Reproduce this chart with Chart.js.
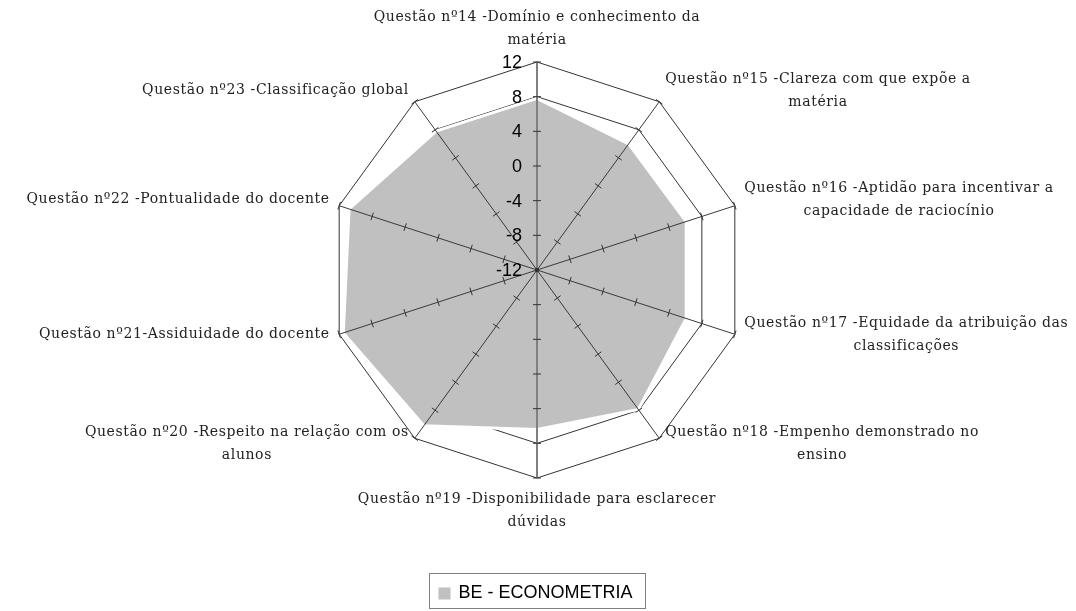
<!DOCTYPE html>
<html lang="pt">
<head>
<meta charset="UTF-8">
<title>BE - ECONOMETRIA</title>
<script src="https://cdn.jsdelivr.net/npm/chart.js"></script>
<style>
  html, body { margin: 0; padding: 0; background: #fff; }
  #wrap { width: 1076px; height: 611px; }
</style>
</head>
<body>
<div id="wrap"><canvas id="radar" width="1076" height="611"></canvas></div>
<script>
const categories = [
  ['Questão nº14 -Domínio e conhecimento da', 'matéria'],
  ['Questão nº15 -Clareza com que expõe a', 'matéria'],
  ['Questão nº16 -Aptidão para incentivar a', 'capacidade de raciocínio'],
  ['Questão nº17 -Equidade da atribuição das', 'classificações'],
  ['Questão nº18 -Empenho demonstrado no', 'ensino'],
  ['Questão nº19 -Disponibilidade para esclarecer', 'dúvidas'],
  ['Questão nº20 -Respeito na relação com os', 'alunos'],
  ['Questão nº21-Assiduidade do docente'],
  ['Questão nº22 -Pontualidade do docente'],
  ['Questão nº23 -Classificação global']
];
const seriesName = 'BE - ECONOMETRIA';
const seriesValues = [7.8, 6.0, 6.1, 6.1, 7.9, 6.4, 10.2, 11.5, 10.8, 7.8];
const tickValues = [-12, -8, -4, 0, 4, 8, 12];

const fillGrey = '#c0c0c0';
const axisFont = '18px "Liberation Sans", Arial, sans-serif';
const labelFont = '14px "DejaVu Serif", serif';

// spokes, tick marks and all the text are drawn over the filled area
const overlay = {
  id: 'overlay',
  afterDatasetsDraw(chart) {
    const r = chart.scales.r;
    const ctx = chart.ctx;
    const n = chart.data.labels.length;
    ctx.save();

    for (let i = 0; i < n; i++) {
      const vertical = (i === 0 || i === n / 2);
      const a = r.getPointPositionForValue(i, r.min);
      const b = r.getPointPositionForValue(i, r.max);
      ctx.strokeStyle = vertical ? '#808080' : '#3a3a3a';
      ctx.lineWidth = vertical ? 2 : 1;
      ctx.beginPath();
      ctx.moveTo(a.x, a.y);
      ctx.lineTo(b.x, b.y);
      ctx.stroke();

      const len = Math.hypot(b.x - a.x, b.y - a.y);
      const ux = (b.x - a.x) / len, uy = (b.y - a.y) / len;
      const m = 4;
      ctx.strokeStyle = '#333';
      ctx.lineWidth = 1;
      r.ticks.forEach(t => {
        if (t.value === r.min) return;
        const p = r.getPointPositionForValue(i, t.value);
        ctx.beginPath();
        ctx.moveTo(p.x - uy * m, p.y + ux * m);
        ctx.lineTo(p.x + uy * m, p.y - ux * m);
        ctx.stroke();
      });
    }

    // centre dot
    ctx.fillStyle = '#333';
    ctx.beginPath();
    ctx.arc(r.xCenter, r.yCenter, 2.2, 0, Math.PI * 2);
    ctx.fill();

    // value labels left of the vertical axis
    ctx.font = axisFont;
    ctx.fillStyle = '#000';
    ctx.textAlign = 'right';
    ctx.textBaseline = 'middle';
    r.ticks.forEach(t => {
      const y = r.yCenter - r.getDistanceFromCenterForValue(t.value);
      ctx.fillText(t.label, r.xCenter - 15, y + 1);
    });

    // category labels, each block centred line by line
    ctx.font = labelFont;
    ctx.letterSpacing = '0.6px';
    ctx.fillStyle = '#222';
    ctx.textAlign = 'center';
    const lh = 23;
    for (let i = 0; i < n; i++) {
      const deg = 360 * i / n;
      const p = r.getPointPosition(i, r.drawingArea + 10);
      const lines = chart.data.labels[i];
      const w = Math.max(...lines.map(l => ctx.measureText(l).width));
      const h = lines.length * lh;
      let cx = p.x;
      if (deg > 0 && deg < 180) cx = p.x + w / 2;
      else if (deg > 180) cx = p.x - w / 2;
      let top;
      if (deg === 0) top = p.y - h;
      else if (deg === 180) top = p.y;
      else top = p.y - h / 2 - 3;
      lines.forEach((l, k) => ctx.fillText(l, cx, top + lh * k + lh / 2));
    }
    ctx.restore();
  },
  afterDraw(chart) {
    // legend with a frame
    const ctx = chart.ctx;
    const ds = chart.data.datasets[0];
    ctx.save();
    ctx.font = axisFont;
    const tw = ctx.measureText(ds.label).width;
    const bw = 9 + 12 + 8 + tw + 13;
    const left = Math.round(chart.scales.r.xCenter + 0.5 - bw / 2) + 0.5;
    const top = 573.5, bh = 35;
    ctx.strokeStyle = '#808080';
    ctx.lineWidth = 1;
    ctx.strokeRect(left, top, bw, bh);
    ctx.fillStyle = ds.backgroundColor;
    ctx.fillRect(left + 9, top + 14, 12, 12);
    ctx.fillStyle = '#000';
    ctx.textAlign = 'left';
    ctx.textBaseline = 'middle';
    ctx.fillText(ds.label, left + 29, top + 20);
    ctx.restore();
  }
};

new Chart(document.getElementById('radar'), {
  type: 'radar',
  data: {
    labels: categories,
    datasets: [{
      label: seriesName,
      data: seriesValues,
      backgroundColor: fillGrey,
      borderColor: '#ffffff',
      borderWidth: 3,
      pointRadius: 0,
      fill: 'start'
    }]
  },
  options: {
    responsive: false,
    animation: false,
    layout: { padding: { top: 62, bottom: 133, left: 329, right: 330 } },
    plugins: {
      legend: { display: false },
      tooltip: { enabled: false }
    },
    scales: {
      r: {
        min: tickValues[0],
        max: tickValues[tickValues.length - 1],
        ticks: { stepSize: tickValues[1] - tickValues[0], display: false },
        grid: { color: '#333333', lineWidth: 1 },
        angleLines: { display: false },
        pointLabels: { display: false }
      }
    }
  },
  plugins: [overlay]
});
</script>
</body>
</html>
